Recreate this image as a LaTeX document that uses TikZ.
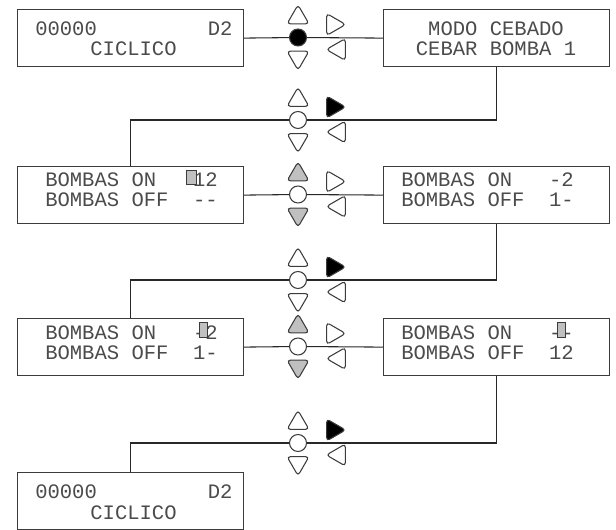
\documentclass[tikz,border=0pt]{standalone}
\usepackage{fontspec}
\newfontfamily\lcdfont[Ligatures=TeXOff]{Liberation Mono}
\usetikzlibrary{shapes.geometric}

\definecolor{frame}{RGB}{60,60,60}
\definecolor{wire}{RGB}{40,40,40}
\definecolor{ink}{RGB}{75,75,75}
\definecolor{cursorgray}{RGB}{192,192,192}

\begin{document}
\begin{tikzpicture}[x=0.75pt, y=-0.75pt]
                \useasboundingbox (0,0) rectangle (616,530);

                % 1. Styles for the displays, the keys and the wires
                \tikzstyle{Display} = [draw=frame, line width=0.9pt, minimum width=169.5pt, minimum height=42.75pt, inner sep=0pt, anchor=north west]
                \tikzstyle{Lcd} = [font=\lcdfont\fontsize{15.4pt}{18pt}\selectfont, text=ink, inner sep=0pt]
                \tikzstyle{Key} = [regular polygon, regular polygon sides=3, draw=frame, line width=0.8pt, rounded corners=2.5pt, minimum size=19pt, inner sep=0pt]
                \tikzstyle{KeyUp} = [Key]
                \tikzstyle{KeyDown} = [Key, shape border rotate=180]
                \tikzstyle{KeyRight} = [Key, shape border rotate=-90]
                \tikzstyle{KeyLeft} = [Key, shape border rotate=90]
                \tikzstyle{Ok} = [circle, draw=frame, line width=0.8pt, minimum size=12.75pt, inner sep=0pt]
                \tikzstyle{Cursor} = [draw=frame, fill=cursorgray, line width=0.6pt]
                \tikzstyle{Wire} = [draw=wire, line width=0.8pt]

                % 2. The displays
                \node[Display] (d1) at (17,9) {};
                \node[Display] (d2) at (383,9) {};
                \node[Display] (d3) at (17,166) {};
                \node[Display] (d4) at (383,166) {};
                \node[Display] (d5) at (17,318) {};
                \node[Display] (d6) at (383,318) {};
                \node[Display] (d7) at (17,472) {};

                % 3. Display texts
                \node[Lcd, anchor=base west] (d1a) at (35,35.5) {00000~~~~~~~~~D2};
                \node[Lcd, anchor=base] (d1b) at (133.5,56) {CICLICO};
                \node[Lcd, anchor=base] (d2a) at (496,35.5) {MODO CEBADO};
                \node[Lcd, anchor=base] (d2b) at (496,56) {CEBAR BOMBA 1};
                \node[Lcd, anchor=base west] (d3a) at (45,187) {BOMBAS~ON~~~12};
                \node[Lcd, anchor=base west] (d3b) at (45,207) {BOMBAS~OFF~~--};
                \node[Lcd, anchor=base west] (d4a) at (401,187) {BOMBAS~ON~~~-2};
                \node[Lcd, anchor=base west] (d4b) at (401,207) {BOMBAS~OFF~~1-};
                \node[Lcd, anchor=base west] (d5a) at (45,339) {BOMBAS~ON~~~-2};
                \node[Lcd, anchor=base west] (d5b) at (45,359) {BOMBAS~OFF~~1-};
                \node[Lcd, anchor=base west] (d6a) at (401,339) {BOMBAS~ON~~~--};
                \node[Lcd, anchor=base west] (d6b) at (401,359) {BOMBAS~OFF~~12};
                \node[Lcd, anchor=base west] (d7a) at (35,498.5) {00000~~~~~~~~~D2};
                \node[Lcd, anchor=base] (d7b) at (133.5,519) {CICLICO};

                % Cursors
                \draw[Cursor] (186,170) rectangle (196,184);
                \draw[Cursor] (199,322) rectangle (207.5,337);
                \draw[Cursor] (557.5,322) rectangle (565.5,337);

                % 4. Key pads (ok / up / down / right / left)
                \foreach \n/\y/\okfill/\rfill/\udfill in {1/37.5/black/white/white, 2/120/white/black/white, 3/194.5/white/white/cursorgray, 4/280/white/black/white, 5/346.5/white/white/cursorgray, 6/443/white/black/white} {
                  \node[Ok, fill=\okfill] (ok\n) at (298,\y) {};
                  \node[KeyUp, fill=\udfill] (up\n) at (298,\y-20) {};
                  \node[KeyDown, fill=\udfill] (down\n) at (298,\y+20) {};
                  \node[KeyRight, fill=\rfill] (right\n) at (333,\y-13) {};
                  \node[KeyLeft, fill=white] (left\n) at (339,\y+12) {};
                }

                % 5. Wires
                \draw[Wire] (d1.east) -- (ok1);
                \draw[Wire] (ok1) -- (d2.west);
                \draw[Wire] (d2.south) |- (ok2);
                \draw[Wire] (ok2) -| (d3.north);
                \draw[Wire] (d3.east) -- (ok3);
                \draw[Wire] (ok3) -- (d4.west);
                \draw[Wire] (d4.south) |- (ok4);
                \draw[Wire] (ok4) -| (d5.north);
                \draw[Wire] (d5.east) -- (ok5);
                \draw[Wire] (ok5) -- (d6.west);
                \draw[Wire] (d6.south) |- (ok6);
                \draw[Wire] (ok6) -| (d7.north);

            \end{tikzpicture}
\end{document}
